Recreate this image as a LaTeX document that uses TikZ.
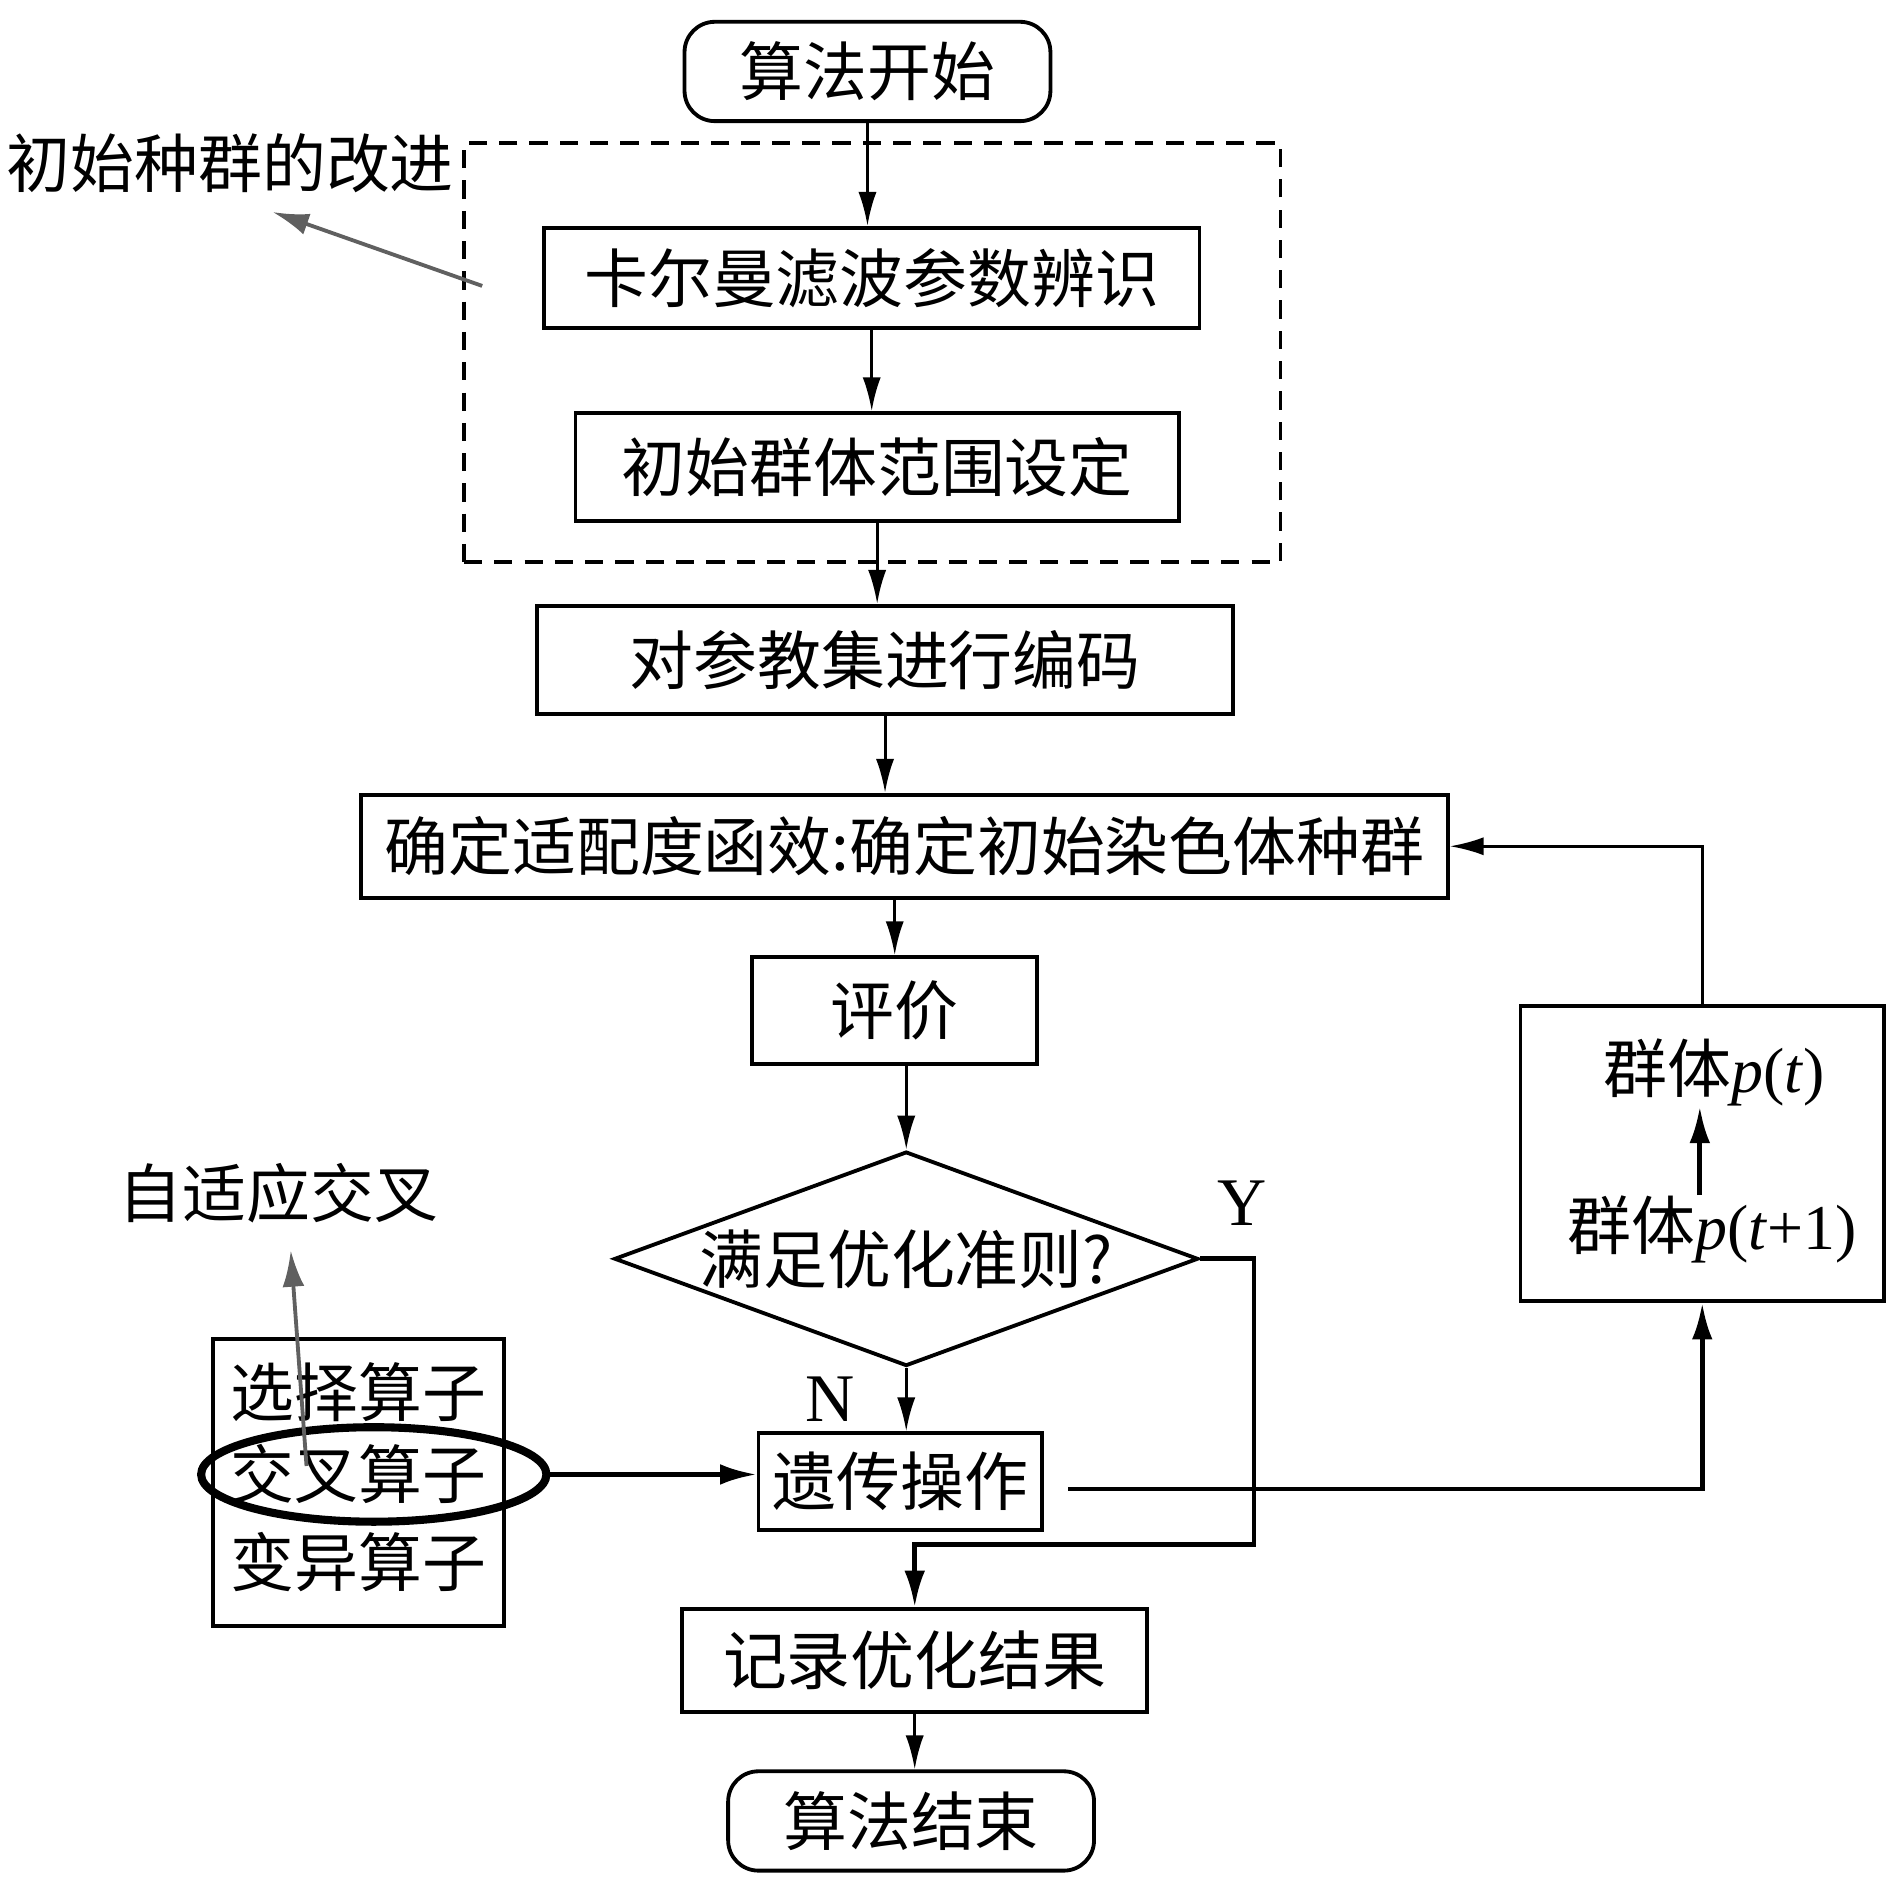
\documentclass[tikz,border=0pt]{standalone}
\usepackage{fontspec}
\setmainfont{Liberation Serif}
\newfontfamily\cjk{Noto Sans CJK SC}
\usepackage{xcolor}
\definecolor{Col1}{RGB}{0,0,0}
\definecolor{Col2}{RGB}{96,96,96}
\usepackage{tikz}
\usetikzlibrary{shapes.geometric}
\usetikzlibrary{arrows.meta}
\tikzstyle{Box}=[rectangle,draw=Col1,line width=0.9pt,inner sep=1pt,
font=\cjk\fontsize{15}{18}\selectfont]
\tikzstyle{Term}=[Box,rounded corners=2.5mm]
\tikzstyle{Frame}=[rectangle,draw=Col1,line width=0.8pt,
dash pattern=on 1.5mm off 1mm]
\tikzstyle{Cond}=[diamond,draw=Col1,line width=0.9pt,inner sep=0pt,
minimum width=4.82cm,minimum height=1.77cm]
\tikzstyle{Ring}=[ellipse,draw=Col1,line width=1.9pt,inner sep=0pt]
\tikzstyle{NodeTxt}=[font=\cjk\fontsize{15}{18}\selectfont,inner sep=0pt]
\tikzstyle{NodeYN}=[font=\fontsize{16}{18}\selectfont,inner sep=0pt]
\tikzstyle{Edge}=[draw=Col1,line width=0.7pt,-{Latex[length=2.8mm,width=1.5mm]}]
\tikzstyle{EdgeT}=[draw=Col1,line width=1.1pt,-{Latex[length=3mm,width=1.7mm]}]
\tikzstyle{Note}=[draw=Col2,line width=0.9pt,-{Latex[length=3mm,width=1.8mm]}]

\begin{document}
\begin{tikzpicture}
    \useasboundingbox (0,0) rectangle (15.6,15.58);
    % main column
    \node[Term,minimum width=3.02cm,minimum height=0.82cm](start)at(7.16,14.99)
        {算法开始};
    \node[Frame,minimum width=6.74cm,minimum height=3.46cm](improve)at(7.20,12.67){};
    \node[Box,minimum width=5.41cm,minimum height=0.83cm](kalman)at(7.195,13.285)
        {卡尔曼滤波参数辨识};
    \node[Box,minimum width=4.98cm,minimum height=0.89cm](range)at(7.24,11.725)
        {初始群体范围设定};
    \node[Box,minimum width=5.75cm,minimum height=0.89cm](code)at(7.305,10.135)
        {对参教集进行编码};
    \node[Box,minimum width=8.97cm,minimum height=0.85cm](fit)at(7.465,8.595)
        {确定适配度函效:确定初始染色体种群};
    \node[Box,minimum width=2.35cm,minimum height=0.88cm](eval)at(7.385,7.24)
        {评价};
    \node[Cond,label={[NodeTxt]center:满足优化准则?}](cond)at(7.48,5.19){};
    \node[Box,minimum width=2.34cm,minimum height=0.80cm](gene)at(7.43,3.35)
        {遗传操作};
    \node[Box,minimum width=3.84cm,minimum height=0.85cm](rec)at(7.55,1.875)
        {记录优化结果};
    \node[Term,minimum width=3.02cm,minimum height=0.82cm](stop)at(7.52,0.55)
        {算法结束};
    \node[NodeYN](yes)at(10.25,5.65){Y};
    \node[NodeYN](no)at(6.85,4.03){N};
    % population box
    \node[Box,minimum width=3.0cm,minimum height=2.44cm](pop)at(14.05,6.06){};
    \node[NodeTxt](pt)at(14.15,6.73){群体{\rmfamily\textit{p}(\textit{t})}};
    \node[NodeTxt](pt1)at(14.13,5.43){群体{\rmfamily\textit{p}(\textit{t}+1)}};
    % operators
    \node[Box,minimum width=2.40cm,minimum height=2.37cm](ops)at(2.96,3.345){};
    \node[NodeTxt](sel)at(2.96,4.09){选择算子};
    \node[NodeTxt](cro)at(2.96,3.41){交叉算子};
    \node[NodeTxt](mut)at(2.96,2.69){变异算子};
    \node[Ring,minimum width=2.85cm,minimum height=0.78cm](ring)at(3.085,3.41){};
    % notes
    \node[NodeTxt](improvetxt)at(1.90,14.23){初始种群的改进};
    \node[NodeTxt](adapt)at(2.30,5.73){自适应交叉};
    \coordinate(n1)at(3.98,13.22);
    \coordinate(n1e)at(2.25,13.83);
    \coordinate(n2)at(2.53,3.48);
    \coordinate(n2e)at(2.40,5.26);
    \coordinate(yr)at(10.35,2.83);
    \draw[Note](n1)--(n1e);
    \draw[Note](n2)--(n2e);
    % connectors
    \draw[Edge](start.south)--(start.south|-kalman.north);
    \draw[Edge](kalman.south)--(kalman.south|-range.north);
    \draw[Edge](range.south)--(range.south|-code.north);
    \draw[Edge](code.south)--(code.south|-fit.north);
    \draw[Edge](eval.north|-fit.south)--(eval.north);
    \draw[Edge](cond.north|-eval.south)--(cond.north);
    \draw[Edge](cond.south)--(cond.south|-gene.north);
    \draw[EdgeT](cond.east)-|(yr)-|(rec.north);
    \draw[Edge](rec.south)--(rec.south|-stop.north);
    \draw[EdgeT]([shift={(2mm,-0.6mm)}]gene.east)-|(pop.south);
    \draw[Edge](pop.north)|-(fit.east);
    \draw[EdgeT]([xshift=-1mm]pt1.north)--([xshift=-1mm]pt1.north|-pt.south);
    \draw[EdgeT](ring.east)--(ring.east-|gene.west);
\end{tikzpicture}
\end{document}
